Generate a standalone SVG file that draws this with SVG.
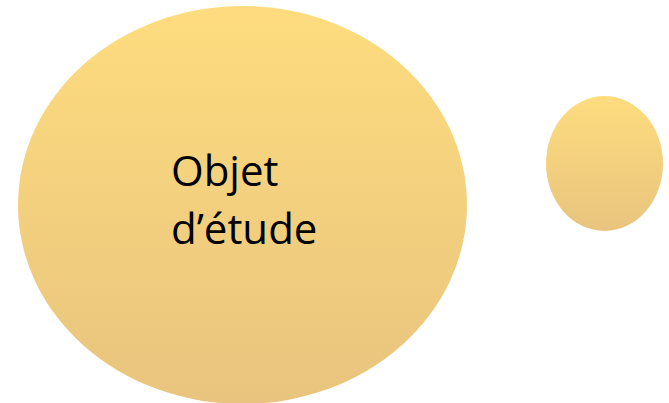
<svg xmlns="http://www.w3.org/2000/svg" width="669" height="403" viewBox="0 0 669 403">
<defs>
<linearGradient id="g" x1="0" y1="0" x2="0" y2="1">
<stop offset="0" stop-color="#FEDC7E"/>
<stop offset="1" stop-color="#E8C47E"/>
</linearGradient>
<style>
.bub{fill:url(#g);}
.t{font-family:"Open Sans","Noto Sans",sans-serif;font-size:42px;fill:#000;}
</style>
</defs>
<g id="node-objet">
<ellipse class="bub" cx="242.5" cy="205" rx="224.5" ry="199"/>
<text class="t" x="171" y="186">Objet</text>
<text class="t" x="171" y="244">d’étude</text>
</g>
<g id="node-small">
<ellipse class="bub" cx="604.5" cy="163.5" rx="58.5" ry="67.5"/>
</g>
<g id="connectors"/>
</svg>
